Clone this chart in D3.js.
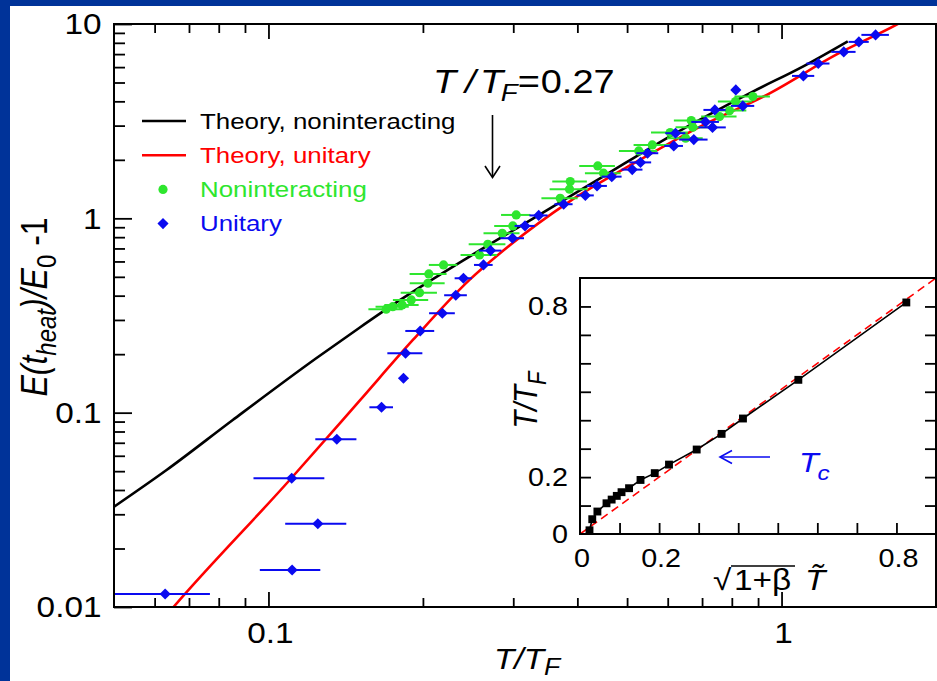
<!DOCTYPE html>
<html>
<head>
<meta charset="utf-8">
<script src="https://cdn.jsdelivr.net/npm/d3@7"></script>
<style>
  html, body { margin: 0; padding: 0; background: #003399; }
  svg { display: block; }
</style>
</head>
<body>
<svg id="chart" width="937" height="681"></svg>
<script>
// ---- Main panel: heating energy vs temperature (log-log) ----
const nonintT = [0.1696,0.1747,0.1822,0.1898,0.1970,0.2045,0.2054,0.2194,0.2578,0.2676,0.2855,0.2994,0.3040,0.3704,0.3862,0.3874,0.4384,0.4498,0.5270,0.5598,0.6067,0.6500,0.6668,0.6716,0.7571,0.7918,0.8134,0.8793];
const nonintE = [0.3405,0.3512,0.3583,0.3802,0.4146,0.4634,0.5174,0.5757,0.648,0.7358,0.838,0.914,1.041,1.269,1.412,1.545,1.861,1.707,2.223,2.387,2.761,2.584,3.184,2.944,3.338,3.583,3.988,4.23];
const nonintErr = [0.013,0.013,0.014,0.015,0.016,0.016,0.017,0.014,0.021,0.022,0.023,0.024,0.020,0.030,0.033,0.030,0.035,0.036,0.045,0.045,0.050,0.052,0.050,0.050,0.060,0.062,0.062,0.070];

const unitT = [0.0629,0.1112,0.1248,0.1110,0.1359,0.1661,0.1833,0.1850,0.1976,0.2182,0.2318,0.2399,0.2625,0.2709,0.2990,0.3162,0.3363,0.3762,0.4146,0.4369,0.4668,0.5117,0.5310,0.5481,0.6165,0.6214,0.6745,0.7110,0.7336,0.7413,0.8145,0.8406,1.103,1.179,1.322,1.415,1.525];
const unitE = [0.01166,0.0155,0.0268,0.0460,0.0730,0.1066,0.1503,0.2021,0.2633,0.3248,0.4020,0.4916,0.5757,0.6821,0.790,0.914,1.035,1.182,1.312,1.468,1.639,1.781,1.940,2.163,2.358,2.742,2.542,3.134,2.937,3.613,4.58,3.789,5.406,6.26,7.186,8.09,8.79];
const unitErr = [0.014,0.015,0.017,0.0175,0.0125,0.0088,0,0.0145,0.0128,0.0126,0.0118,0.0093,0.011,0.0136,0.0158,0.0143,0.0137,0.0153,0.016,0.0198,0.021,0.024,0.026,0.027,0.026,0.028,0.043,0.044,0.045,0.037,0,0.044,0.055,0.061,0.072,0.064,0.094];

const theoryNonT = [0.050,0.0633,0.0852,0.1239,0.150,0.180,0.2465,0.3327,0.4487,0.605,0.879,1.10,1.346];
const theoryNonE = [0.0328,0.0507,0.0917,0.1905,0.272,0.378,0.636,1.02,1.64,2.635,4.49,6.04,8.15];
const theoryUniT = [0.0600,0.0653,0.1099,0.150,0.1912,0.2465,0.295,0.386,0.521,0.70,0.948,1.278,1.673,1.80];
const theoryUniE = [0.0077,0.0100,0.0449,0.114,0.2366,0.482,0.725,1.22,1.95,3.0,4.4,6.95,9.9,11.0];

const xMajor = [0.1, 1];
const xMinor = [0.06,0.07,0.08,0.09,0.2,0.3,0.4,0.5,0.6,0.7,0.8,0.9];
const xTickLabels = ["0.1", "1"];
const yMajor = [0.01, 0.1, 1, 10];
const yMinor = [0.02,0.03,0.04,0.05,0.06,0.07,0.08,0.09,0.2,0.3,0.4,0.5,0.6,0.7,0.8,0.9,2,3,4,5,6,7,8,9];
const yTickLabels = ["0.01", "0.1", "1", "10"];

const legendLabels = ["Theory, noninteracting", "Theory, unitary", "Noninteracting", "Unitary"];

// ---- Inset: T/T_F vs sqrt(1+beta) T~ ----
const insetX = [0.024,0.031,0.044,0.067,0.080,0.093,0.105,0.124,0.153,0.189,0.225,0.295,0.358,0.412,0.552,0.825];
const insetY = [0.013,0.052,0.079,0.108,0.121,0.134,0.147,0.161,0.190,0.214,0.244,0.297,0.352,0.406,0.542,0.814];
const insetRef = [0, 0.9];
const insetTicks = [0.1,0.2,0.3,0.4,0.5,0.6,0.7,0.8];
const insetXTickVals = [0, 0.2, 0.8];
const insetXTickLabels = ["0", "0.2", "0.8"];
const insetYTickVals = [0, 0.2, 0.8];
const insetYTickLabels = ["0", "0.2", "0.8"];

const BLACK = "#000000", RED = "#ff0000", GREEN = "#2ee62e", BLUE = "#0a0af0";
const FONT = "'Liberation Sans', Arial, Helvetica, sans-serif";
const SX = 1.15; // horizontal glyph widening used throughout

const svg = d3.select("#chart");
svg.append("rect").attr("width", 937).attr("height", 681).attr("fill", "#003399");
svg.append("rect").attr("x", 10).attr("y", 6).attr("width", 927).attr("height", 675).attr("fill", "#ffffff");

// text placed in a widened group; rotated labels widen along the page's horizontal
function txt(x, y, opts = {}) {
  const rot = opts.rotate || 0;
  const sc = rot ? `scale(1,${SX})` : `scale(${SX},1)`;
  const g = svg.append("g").attr("transform", `translate(${x},${y}) rotate(${rot}) ${sc}`);
  return g.append("text")
    .attr("font-family", FONT)
    .attr("font-size", opts.size || 28)
    .attr("fill", opts.color || BLACK)
    .attr("text-anchor", opts.anchor || "start")
    .attr("font-style", opts.italic ? "italic" : "normal");
}

const L = 114, R = 936, T = 24, B = 607;
const x = d3.scaleLog().domain([0.05, 2]).range([L, R]);
const y = d3.scaleLog().domain([0.01, 10]).range([B, T]);

svg.append("defs").append("clipPath").attr("id", "plotClip")
  .append("rect").attr("x", L).attr("y", T).attr("width", R - L).attr("height", B - T);
const plot = svg.append("g").attr("clip-path", "url(#plotClip)");

const curveLine = d3.line().x(d => x(d[0])).y(d => y(d[1])).curve(d3.curveMonotoneX);

plot.append("path").datum(theoryNonT.map((t, i) => [t, theoryNonE[i]]))
  .attr("d", curveLine).attr("fill", "none").attr("stroke", BLACK).attr("stroke-width", 2.6);
plot.append("path").datum(theoryUniT.map((t, i) => [t, theoryUniE[i]]))
  .attr("d", curveLine).attr("fill", "none").attr("stroke", RED).attr("stroke-width", 2.6);

// measured points with horizontal error bars
function series(ts, es, errs, color, shape) {
  const pts = ts.map((t, i) => ({ t, e: es[i], err: errs[i] }));
  plot.append("g").selectAll("line").data(pts.filter(d => d.err > 0)).join("line")
    .attr("x1", d => x(d.t - d.err)).attr("x2", d => x(d.t + d.err))
    .attr("y1", d => y(d.e)).attr("y2", d => y(d.e))
    .attr("stroke", color).attr("stroke-width", 2);
  const g = plot.append("g");
  if (shape === "circle") {
    g.selectAll("circle").data(pts).join("circle")
      .attr("cx", d => x(d.t)).attr("cy", d => y(d.e)).attr("r", 4.6).attr("fill", color);
  } else {
    g.selectAll("path").data(pts).join("path")
      .attr("d", d3.symbol(d3.symbolSquare, 62))
      .attr("transform", d => `translate(${x(d.t)},${y(d.e)}) rotate(45)`)
      .attr("fill", color);
  }
}
series(nonintT, nonintE, nonintErr, GREEN, "circle");
series(unitT, unitE, unitErr, BLUE, "diamond");

// axes: inward ticks, labels drawn separately
function styleAxis(g) {
  g.select(".domain").remove();
  g.selectAll(".tick line").attr("stroke", BLACK).attr("stroke-width", 1.8);
}
svg.append("g").attr("transform", `translate(${L},0)`)
  .call(d3.axisLeft(y).tickValues(yMajor).tickSize(-18).tickFormat("")).call(styleAxis);
svg.append("g").attr("transform", `translate(${L},0)`)
  .call(d3.axisLeft(y).tickValues(yMinor).tickSize(-11).tickFormat("")).call(styleAxis);
svg.append("g").attr("transform", `translate(0,${T})`)
  .call(d3.axisTop(x).tickValues(xMajor).tickSize(-15).tickFormat("")).call(styleAxis);
svg.append("g").attr("transform", `translate(0,${T})`)
  .call(d3.axisTop(x).tickValues(xMinor).tickSize(-9).tickFormat("")).call(styleAxis);
svg.append("g").attr("transform", `translate(0,${B})`)
  .call(d3.axisBottom(x).tickValues(xMajor).tickSize(-15).tickFormat("")).call(styleAxis);
svg.append("g").attr("transform", `translate(0,${B})`)
  .call(d3.axisBottom(x).tickValues(xMinor).tickSize(-9).tickFormat("")).call(styleAxis);

svg.append("rect").attr("x", L).attr("y", T).attr("width", R - L).attr("height", B - T)
  .attr("fill", "none").attr("stroke", BLACK).attr("stroke-width", 2);

yMajor.forEach((v, i) => txt(101.5, y(v) + 10.4, { size: 29, anchor: "end" }).text(yTickLabels[i]));
xMajor.forEach((v, i) => txt(x(v) + 2, 643, { size: 29, anchor: "middle" }).text(xTickLabels[i]));

// axis titles
{
  const t = txt(494, 669, { size: 29, italic: true });
  t.append("tspan").text("T/T");
  t.append("tspan").attr("font-size", 23).attr("dy", 6).text("F");
}
{
  const t = txt(47, 307, { size: 32, italic: true, anchor: "middle", rotate: -90 });
  t.append("tspan").text("E(t");
  t.append("tspan").attr("font-size", 24).attr("dy", 7.5).text("heat");
  t.append("tspan").attr("dy", -7.5).text(")/E");
  t.append("tspan").attr("font-size", 24).attr("font-style", "normal").attr("dy", 7.5).text("0");
  t.append("tspan").attr("font-style", "normal").attr("dy", -7.5).text(" -1");
}

// legend
const legendColors = [BLACK, RED, GREEN, BLUE];
legendColors.forEach((c, i) => {
  const cy = 121 + i * 34.2;
  if (i < 2) {
    svg.append("line").attr("x1", 142).attr("x2", 186).attr("y1", cy).attr("y2", cy)
      .attr("stroke", c).attr("stroke-width", 2.6);
  } else if (i === 2) {
    svg.append("circle").attr("cx", 163).attr("cy", cy).attr("r", 4.6).attr("fill", c);
  } else {
    svg.append("path").attr("d", d3.symbol(d3.symbolSquare, 62))
      .attr("transform", `translate(163,${cy}) rotate(45)`).attr("fill", c);
  }
  txt(200, cy + 7.6, { size: 22.5, color: c }).text(legendLabels[i]);
});

// annotation at T/T_F = 0.27, one text run with spaced glyphs
{
  const t = txt(433, 92.7, { size: 33, italic: true });
  t.append("tspan").text("T");
  t.append("tspan").attr("dx", 7.6).text("/");
  t.append("tspan").attr("dx", 3.9).text("T");
  t.append("tspan").attr("dx", -2).attr("dy", 8.3).attr("font-size", 24).text("F");
  t.append("tspan").attr("dx", 0.1).attr("dy", -8.3).attr("font-style", "normal").text("=");
  t.append("tspan").attr("dx", 0.7).attr("font-style", "normal").text("0.27");
}
svg.append("line").attr("x1", 492.5).attr("x2", 492.5).attr("y1", 115).attr("y2", 177)
  .attr("stroke", BLACK).attr("stroke-width", 1.6);
svg.append("path").attr("d", "M485,166 L492.5,177.5 L500,166")
  .attr("fill", "none").attr("stroke", BLACK).attr("stroke-width", 1.6);

// ---- inset ----
const iL = 580, iR = 936, iT = 278, iB = 534;
const xi = d3.scaleLinear().domain([0, 0.9]).range([iL, iR]);
const yi = d3.scaleLinear().domain([0, 0.9]).range([iB, iT]);

svg.append("rect").attr("x", iL).attr("y", iT).attr("width", iR - iL).attr("height", iB - iT)
  .attr("fill", "#ffffff");

svg.append("line")
  .attr("x1", xi(insetRef[0])).attr("y1", yi(insetRef[0]))
  .attr("x2", xi(insetRef[1])).attr("y2", yi(insetRef[1]))
  .attr("stroke", RED).attr("stroke-width", 1.6).attr("stroke-dasharray", "8,5");

const insetPts = insetX.map((v, i) => [v, insetY[i]]);
svg.append("path").datum(insetPts)
  .attr("d", d3.line().x(d => xi(d[0])).y(d => yi(d[1])))
  .attr("fill", "none").attr("stroke", BLACK).attr("stroke-width", 1.6);
svg.append("g").selectAll("path").data(insetPts).join("path")
  .attr("d", d3.symbol(d3.symbolSquare, 62))
  .attr("transform", d => `translate(${xi(d[0])},${yi(d[1])})`)
  .attr("fill", BLACK);

svg.append("g").attr("transform", `translate(${iL},0)`)
  .call(d3.axisLeft(yi).tickValues(insetTicks).tickSize(-11).tickFormat("")).call(styleAxis);
svg.append("g").attr("transform", `translate(${iR},0)`)
  .call(d3.axisRight(yi).tickValues(insetTicks).tickSize(-11).tickFormat("")).call(styleAxis);
svg.append("g").attr("transform", `translate(0,${iB})`)
  .call(d3.axisBottom(xi).tickValues(insetTicks).tickSize(-11).tickFormat("")).call(styleAxis);
svg.append("rect").attr("x", iL).attr("y", iT).attr("width", iR - iL).attr("height", iB - iT)
  .attr("fill", "none").attr("stroke", BLACK).attr("stroke-width", 2);

insetYTickVals.forEach((v, i) => txt(568, yi(v) + 9, { size: 25, anchor: "end" }).text(insetYTickLabels[i]));
insetXTickVals.forEach((v, i) => txt(xi(v) + 2, 567, { size: 25, anchor: "middle" }).text(insetXTickLabels[i]));

{
  const t = txt(537, 400, { size: 29, italic: true, anchor: "middle", rotate: -90 });
  t.append("tspan").text("T/T");
  t.append("tspan").attr("font-size", 22).attr("dy", 8).text("F");
}
{
  txt(713, 590, { size: 29 }).text("\u221A");
  txt(734, 590, { size: 29 }).text("1+\u03B2");
  svg.append("line").attr("x1", 731).attr("x2", 795).attr("y1", 566).attr("y2", 566)
    .attr("stroke", BLACK).attr("stroke-width", 1.5);
  txt(805, 590, { size: 29, italic: true }).text("T\u0303");
}

// critical temperature marker
svg.append("line").attr("x1", 770).attr("x2", 720).attr("y1", 457).attr("y2", 457)
  .attr("stroke", BLUE).attr("stroke-width", 1.6);
svg.append("path").attr("d", "M732,450.5 L720,457 L732,463.5")
  .attr("fill", "none").attr("stroke", BLUE).attr("stroke-width", 1.6);
{
  const t = txt(799, 471.5, { size: 28, italic: true, color: BLUE });
  t.append("tspan").text("T");
  t.append("tspan").attr("font-size", 21).attr("dy", 8.5).attr("dx", -1).text("c");
}
</script>
</body>
</html>
